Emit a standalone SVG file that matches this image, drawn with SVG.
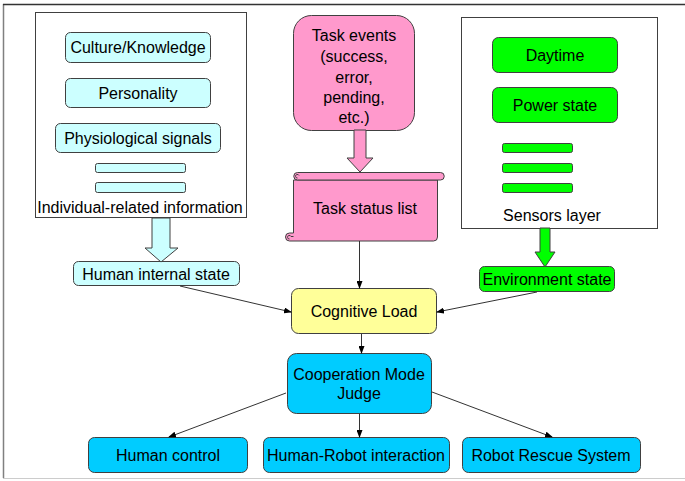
<svg xmlns="http://www.w3.org/2000/svg" width="685" height="481" viewBox="0 0 685 481">
<defs>
<marker id="ah" markerWidth="8" markerHeight="6" refX="7" refY="3" orient="auto" markerUnits="userSpaceOnUse">
<path d="M0,0 L8,3 L0,6 Z" fill="#000"/>
</marker>
<style>
text{font-family:"Liberation Sans",Arial,sans-serif;font-size:16px;fill:#000;text-anchor:middle}
.box{stroke:#404040;stroke-width:1}
.cyan{fill:#CCFFFF}
.pink{fill:#FF99CC}
.green{fill:#00FF00}
.yellow{fill:#FFFF99}
.blue{fill:#00CCFF}
.frame{fill:#fff;stroke:#404040;stroke-width:1}
.conn{stroke:#333;stroke-width:1;fill:none;marker-end:url(#ah)}
</style>
</defs>
<rect width="685" height="481" fill="#fff"/>
<line x1="3.5" y1="4" x2="3.5" y2="478" stroke="#808080" stroke-width="1.5"/>
<line x1="3" y1="4.5" x2="685" y2="4.5" stroke="#333" stroke-width="1.5"/>
<line x1="3" y1="478.5" x2="685" y2="478.5" stroke="#ccc" stroke-width="1"/>

<g id="individual-info">
<rect class="frame" x="35.5" y="12.5" width="211" height="205"/>
<text x="140" y="213">Individual-related information</text>
</g>
<g id="culture"><rect class="box cyan" x="65.5" y="32.5" width="145" height="30" rx="5"/><text x="138" y="53">Culture/Knowledge</text></g>
<g id="personality"><rect class="box cyan" x="65.5" y="78.5" width="145" height="29" rx="5"/><text x="138" y="99">Personality</text></g>
<g id="physio"><rect class="box cyan" x="55.5" y="123.5" width="165" height="29" rx="5"/><text x="138" y="144">Physiological signals</text></g>
<g id="cyan-bar1"><rect class="box cyan" x="95.5" y="163.5" width="90" height="9" rx="2"/></g>
<g id="cyan-bar2"><rect class="box cyan" x="95.5" y="182.5" width="90" height="10" rx="2"/></g>

<g id="human-internal-state"><rect class="box cyan" x="73.5" y="261.5" width="166" height="24" rx="5"/><text x="156" y="280">Human internal state</text></g>

<g id="task-events"><rect class="box pink" x="293.5" y="15.5" width="121" height="115" rx="18"/>
<text x="354" y="41">Task events</text><text x="354" y="62">(success,</text><text x="354" y="83">error,</text><text x="354" y="103">pending,</text><text x="354" y="123">etc.)</text></g>

<g id="task-status-list">
<path class="box pink" d="M293.5,180 L437.5,180 L437.5,237 Q437.5,241 433.5,241 L289.5,241 A4,4 0 0 1 289.5,233 L293.5,233 Z"/>
<path class="box pink" d="M297.5,172.5 L440.5,172.5 A3.75,3.75 0 0 1 440.5,180 L297.5,180 A3.75,3.75 0 0 1 297.5,172.5 Z"/>
<path d="M297.5,178 A1.8,1.8 0 1 1 299,175.5" fill="none" stroke="#404040" stroke-width="1"/>
<path d="M289.5,239 A1.8,1.8 0 1 1 291,236.5 L293.5,236.5" fill="none" stroke="#404040" stroke-width="1"/>
<text x="365" y="214">Task status list</text>
</g>

<g id="sensors-layer">
<rect class="frame" x="461.5" y="17.5" width="196" height="211"/>
<text x="552" y="221">Sensors layer</text>
</g>
<g id="daytime"><rect class="box green" x="492.5" y="37.5" width="125" height="35" rx="6"/><text x="555" y="61">Daytime</text></g>
<g id="power-state"><rect class="box green" x="492.5" y="87.5" width="125" height="35" rx="6"/><text x="555" y="111">Power state</text></g>
<g id="green-bar1"><rect class="box green" x="502.5" y="143.5" width="70" height="9" rx="2"/></g>
<g id="green-bar2"><rect class="box green" x="502.5" y="163.5" width="70" height="9" rx="2"/></g>
<g id="green-bar3"><rect class="box green" x="502.5" y="183.5" width="70" height="9" rx="2"/></g>

<g id="environment-state"><rect class="box green" x="479.5" y="266.5" width="135" height="25" rx="5"/><text x="547" y="285">Environment state</text></g>

<g id="cognitive-load"><rect class="box yellow" x="291.5" y="288.5" width="145" height="45" rx="7"/><text x="364" y="317">Cognitive Load</text></g>

<g id="cooperation-mode-judge"><rect class="box blue" x="287.5" y="353.5" width="144" height="60" rx="9"/><text x="359" y="380">Cooperation Mode</text><text x="359" y="399">Judge</text></g>

<g id="human-control"><rect class="box blue" x="88.5" y="437.5" width="159" height="35" rx="6"/><text x="168" y="461">Human control</text></g>
<g id="human-robot-interaction"><rect class="box blue" x="263.5" y="437.5" width="186" height="35" rx="6"/><text x="356" y="461">Human-Robot interaction</text></g>
<g id="robot-rescue-system"><rect class="box blue" x="462.5" y="437.5" width="178" height="35" rx="6"/><text x="551" y="461">Robot Rescue System</text></g>

<g id="connectors">
<polygon class="box cyan" points="152,218 170,218 170,248 178,248 161,262 145,248 152,248"/>
<polygon class="box pink" points="354,130 366,130 366,158 373,158 360,172 347,158 354,158"/>
<polygon class="box green" points="540,228 550,228 550,252 555,252 545,267 535,252 540,252"/>
<line class="conn" x1="359.5" y1="241" x2="359.5" y2="288"/>
<line class="conn" x1="180" y1="286" x2="291" y2="312"/>
<line class="conn" x1="537" y1="292" x2="437" y2="312"/>
<line class="conn" x1="361.5" y1="334" x2="361.5" y2="353"/>
<line class="conn" x1="286" y1="393" x2="169" y2="437"/>
<line class="conn" x1="359.5" y1="414" x2="359.5" y2="437"/>
<line class="conn" x1="432" y1="392" x2="552" y2="437"/>
</g>
</svg>
